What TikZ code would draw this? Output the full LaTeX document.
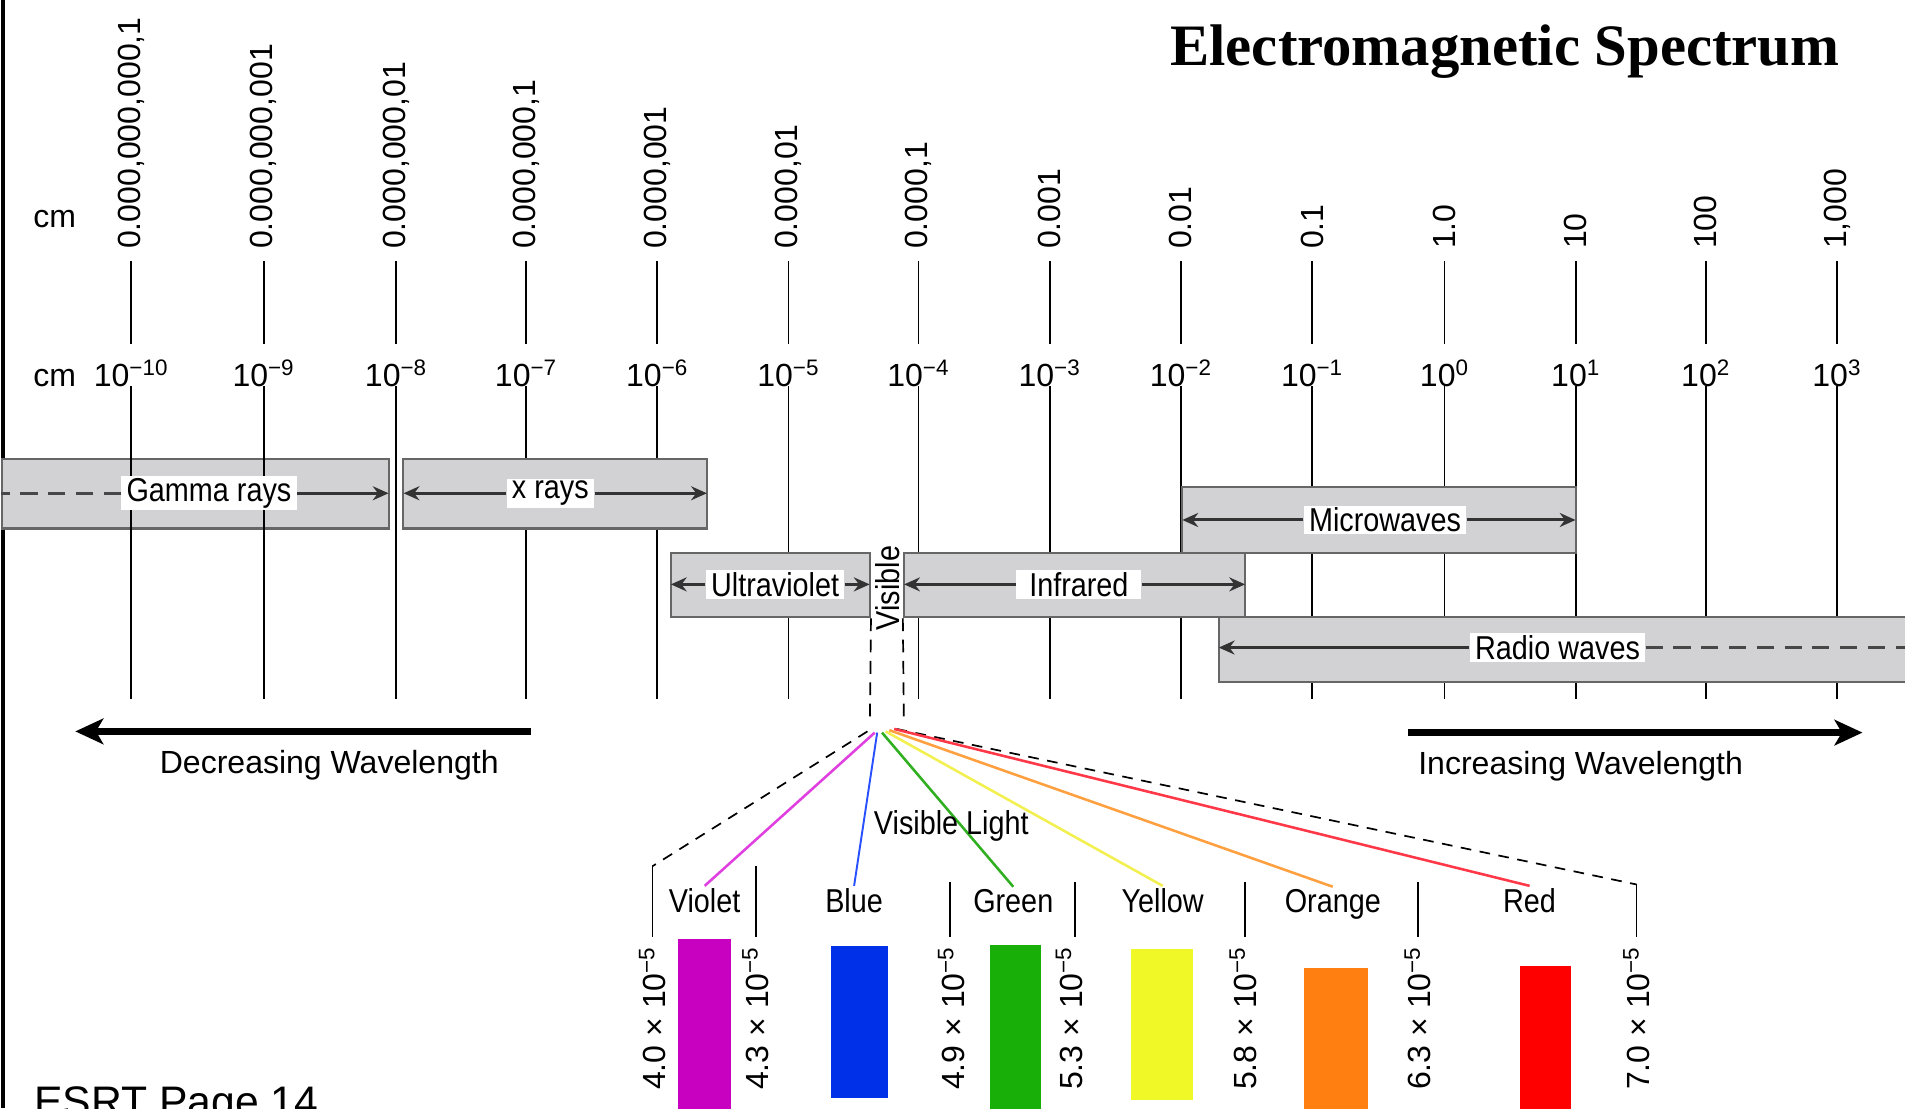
\documentclass[tikz,border=0pt]{standalone}
\usepackage{fontspec}
\setmainfont{Liberation Sans}
\newfontfamily\narrowfont[FakeStretch=0.87]{Liberation Sans}
\newfontfamily\titlefont{Liberation Serif}
\usetikzlibrary{positioning, arrows.meta, fit}

\definecolor{bandgrey}{HTML}{D2D2D4}
\definecolor{edgegrey}{HTML}{666666}
\definecolor{arrowgrey}{HTML}{333333}
\definecolor{violetbar}{HTML}{C800C0}
\definecolor{bluebar}{HTML}{0030E8}
\definecolor{greenbar}{HTML}{18B008}
\definecolor{yellowbar}{HTML}{F0F828}
\definecolor{orangebar}{HTML}{FF8010}
\definecolor{redbar}{HTML}{FF0000}
\definecolor{violetray}{HTML}{E040E0}
\definecolor{blueray}{HTML}{2850FF}
\definecolor{greenray}{HTML}{30B020}
\definecolor{yellowray}{HTML}{F2F050}
\definecolor{orangeray}{HTML}{FFA040}
\definecolor{redray}{HTML}{FF3848}

\begin{document}
\begin{tikzpicture}[
        x=0.2mm, y=-0.2mm,
        >={Stealth[length=2.6mm, width=2.3mm]},
        band/.style={draw=edgegrey, line width=1pt, fill=bandgrey, inner sep=0pt},
        bandlabel/.style={fill=white, inner xsep=2.5pt, inner ysep=1pt, font=\narrowfont\fontsize{15.5}{17}\selectfont},
        bandarrow/.style={draw=arrowgrey, line width=1.4pt, shorten >=0.6pt},
        banddash/.style={draw=arrowgrey!90, line width=1.4pt, dash pattern=on 8pt off 5pt},
        tick/.style={line width=0.85pt},
        unit/.style={anchor=base, inner sep=0pt, font=\fontsize{15}{18}\selectfont},
        declabel/.style={rotate=90, anchor=west, inner sep=1pt, font=\fontsize{15}{18}\selectfont},
        explabel/.style={anchor=base, inner sep=0pt, font=\fontsize{15}{18}\selectfont},
        vallabel/.style={rotate=90, anchor=east, inner sep=1pt, font=\fontsize{15}{18}\selectfont},
        colourlabel/.style={anchor=base, inner sep=1pt, font=\narrowfont\fontsize{15.5}{17}\selectfont},
        wavetext/.style={inner sep=1pt, font=\fontsize{15}{18}\selectfont},
        bigarrow/.style={line width=3pt, -{Stealth[length=4.6mm, width=4.2mm, inset=1.2mm]}},
        visdash/.style={line width=0.8pt, dash pattern=on 6pt off 4pt},
        fandash/.style={line width=0.8pt, dash pattern=on 5pt off 4pt},
        ray/.style={line width=1.2pt}
        ]
        \useasboundingbox (0,0) rectangle (1568,912);

        % Title and page note
        \node[anchor=base west, inner sep=0pt, font=\titlefont\bfseries\fontsize{27.5}{30}\selectfont] (title) at (963,54) {Electromagnetic Spectrum};
        \node[anchor=base west, inner sep=0pt, font=\fontsize{20}{24}\selectfont] (esrt) at (28,919) {ESRT Page 14};

        % Frame line
        \draw[line width=1.7pt] (2.5,0) -- (2.5,912);

        % Units
        \node[unit] (cmdec) at (45,187) {cm};
        \node[unit] (cmexp) at (45,318) {cm};

        % Gamma band sits under the scale lines
        \node[band, fit={(2,378) (320,435)}] (gamma) {};

        % Scale
        \foreach \i/\x/\dec/\ex in {0/108/0.000{,}000{,}000{,}1/−10, 1/217/0.000{,}000{,}001/−9,
                2/326/0.000{,}000{,}01/−8, 3/433/0.000{,}000{,}1/−7, 4/541/0.000{,}001/−6,
                5/649/0.000{,}01/−5, 6/756/0.000{,}1/−4, 7/864/0.001/−3, 8/972/0.01/−2,
                9/1080/0.1/−1, 10/1189/1.0/0, 11/1297/10/1, 12/1404/100/2, 13/1512/1{,}000/3} {
            \node[declabel] (dec\i) at (\x,207) {\dec};
            \node[explabel] (exp\i) at (\x,318) {10\textsuperscript{\ex}};
            \draw[tick] (\x,215) -- (\x,283);
            \draw[tick] (\x,318) -- (\x,575);
        }

        % Bands
        \node[band, fit={(332,378) (582,435)}] (xray) {};
        \node[band, fit={(552,455) (716,508)}] (uv) {};
        \node[band, fit={(744,455) (1025,508)}] (ir) {};
        \node[band, fit={(973,401) (1297,455)}] (micro) {};
        \node[band, fit={(1003,508) (1580,561)}] (radio) {};

        % Band labels
        \node[bandlabel] (gammalbl) at (172,406) {Gamma rays};
        \node[bandlabel] (xraylbl) at (453,406) {x rays};
        \node[bandlabel] (uvlbl) at (638,481) {Ultraviolet};
        \node[bandlabel, inner xsep=6pt] (irlbl) at (888,481) {Infrared};
        \node[bandlabel] (microlbl) at (1140,428) {Microwaves};
        \node[bandlabel] (radiolbl) at (1282,533) {Radio waves};
        \node[bandlabel, fill=none, inner sep=0pt, rotate=90] (vislbl) at (731,484) {Visible};

        % Band arrows
        \draw[banddash] (gammalbl.west) -- (gammalbl.west -| gamma.west);
        \draw[bandarrow, ->] (gammalbl.east) -- (gammalbl.east -| gamma.east);
        \draw[bandarrow, ->] (xraylbl.west) -- (xraylbl.west -| xray.west);
        \draw[bandarrow, ->] (xraylbl.east) -- (xraylbl.east -| xray.east);
        \draw[bandarrow, ->] (uvlbl.west) -- (uvlbl.west -| uv.west);
        \draw[bandarrow, ->] (uvlbl.east) -- (uvlbl.east -| uv.east);
        \draw[bandarrow, ->] (irlbl.west) -- (irlbl.west -| ir.west);
        \draw[bandarrow, ->] (irlbl.east) -- (irlbl.east -| ir.east);
        \draw[bandarrow, ->] (microlbl.west) -- (microlbl.west -| micro.west);
        \draw[bandarrow, ->] (microlbl.east) -- (microlbl.east -| micro.east);
        \draw[bandarrow, ->] (radiolbl.west) -- (radiolbl.west -| radio.west);
        \draw[banddash] (radiolbl.east) -- (radiolbl.east -| radio.east);

        % Visible window
        \coordinate (visL) at (716,596);
        \coordinate (visR) at (744,596);
        \draw[visdash] (uv.south east) -- (visL);
        \draw[visdash] (ir.south west) -- (visR);

        % Direction arrows
        \coordinate (decA) at (437,602);
        \coordinate (decB) at (62,602);
        \draw[bigarrow] (decA) -- (decB);
        \node[wavetext] (declbl) at (271,630) {Decreasing Wavelength};
        \coordinate (incA) at (1159,603);
        \coordinate (incB) at (1533,603);
        \draw[bigarrow] (incA) -- (incB);
        \node[wavetext] (inclbl) at (1301,631) {Increasing Wavelength};

        % Colour boundaries
        \foreach \n/\x/\y in {40/537/713, 43/622/713, 49/782/726, 53/885/726, 58/1025/726, 63/1167/726, 70/1347/728} {
            \coordinate (b\n) at (\x,\y);
            \draw[tick] (b\n) -- (\x,771);
        }
        \foreach \n/\x/\v in {40/537/4.0, 43/622/4.3, 49/783/4.9, 53/880/5.3, 58/1023/5.8, 63/1167/6.3, 70/1347/7.0}
            \node[vallabel] (val\n) at (\x,777) {\v{} × 10\textsuperscript{−5}};

        % Colour bars
        \fill[violetbar] (558,773) rectangle (602,915);
        \fill[bluebar] (684,779) rectangle (731,904);
        \fill[greenbar] (815,778) rectangle (857,915);
        \fill[yellowbar] (931,781) rectangle (982,905);
        \fill[orangebar] (1073,797) rectangle (1126,915);
        \fill[redbar] (1251,795) rectangle (1293,915);

        % Colour names
        \node[colourlabel] (lblviolet) at (580,751) {Violet};
        \node[colourlabel] (lblblue) at (703,751) {Blue};
        \node[colourlabel] (lblgreen) at (834,751) {Green};
        \node[colourlabel] (lblyellow) at (957,751) {Yellow};
        \node[colourlabel] (lblorange) at (1097,751) {Orange};
        \node[colourlabel] (lblred) at (1259,751) {Red};

        % Fan of visible light
        \coordinate (fanL) at (714,602);
        \coordinate (fanR) at (738,600);
        \coordinate (fv) at (720,603);
        \coordinate (fb) at (722,603);
        \coordinate (fg) at (726,603);
        \coordinate (fy) at (729,602);
        \coordinate (fo) at (732,601);
        \coordinate (fr) at (736,600);
        \draw[fandash] (fanL) -- (b40);
        \draw[fandash] (fanR) -- (b70);
        \draw[ray, violetray] (fv) -- (lblviolet.north);
        \draw[ray, blueray, line width=0.9pt] (fb) -- (lblblue.north);
        \draw[ray, greenray] (fg) -- (lblgreen.north);
        \draw[ray, yellowray] (fy) -- (lblyellow.north);
        \draw[ray, orangeray] (fo) -- (lblorange.north);
        \draw[ray, redray] (fr) -- (lblred.north);
        \node[colourlabel, anchor=center] (vislight) at (783,680) {Visible Light};

\end{tikzpicture}
\end{document}
